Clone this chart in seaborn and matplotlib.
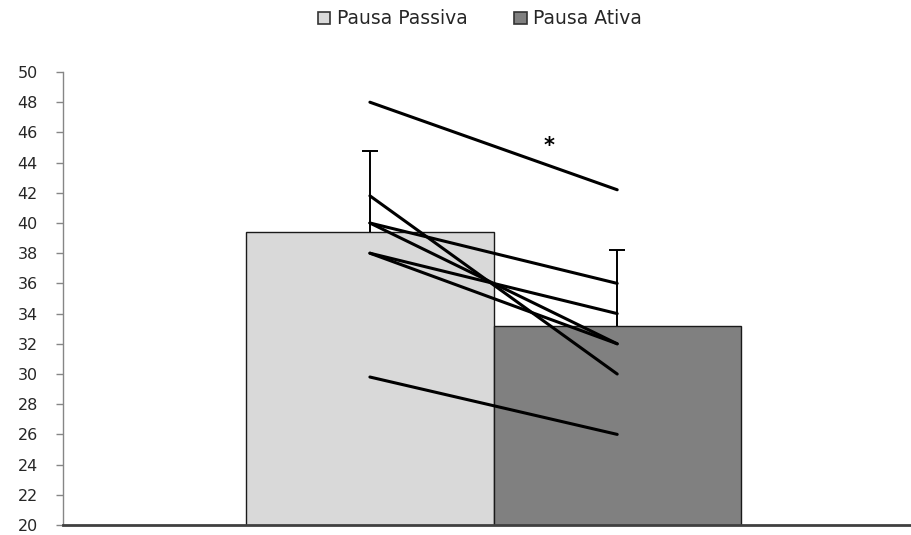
import numpy as np
import pandas as pd
import matplotlib
matplotlib.use("Agg")
import matplotlib.pyplot as plt
from matplotlib.patches import Patch
import seaborn as sns

grupos = ["Pausa Passiva", "Pausa Ativa"]
cores = ["#D9D9D9", "#808080"]
# valores individuais de cada sujeito nas duas condições
passiva = [48.0, 41.8, 40.0, 40.0, 38.0, 38.0, 29.8]
ativa = [42.2, 30.0, 36.0, 32.0, 34.0, 32.0, 26.0]
yticks = list(range(20, 51, 2))

sns.set_theme(style="white")
plt.rcParams["font.family"] = ["DejaVu Sans"]

n = len(passiva)
df = pd.DataFrame({
    "sujeito": list(range(n)) * 2,
    "grupo": [grupos[0]] * n + [grupos[1]] * n,
    "valor": passiva + ativa,
})
df["pos"] = df["grupo"].map({g: i for i, g in enumerate(grupos)})

fig = plt.figure(figsize=(9.12, 5.35), dpi=100)
ax = fig.add_axes([63 / 912, 10 / 535, 848 / 912, 453 / 535])

sns.barplot(data=df, x="grupo", y="valor", hue="grupo", order=grupos,
            hue_order=grupos, palette=cores, width=1.0, errorbar=None,
            edgecolor="#1a1a1a", linewidth=1.0, legend=False, ax=ax)

# desvio padrão apenas para cima
resumo = df.groupby("pos")["valor"].agg(["mean", "std"]).sort_index()
_, caps, _ = ax.errorbar(resumo.index, resumo["mean"],
                         yerr=[np.zeros(len(resumo)), resumo["std"]],
                         fmt="none", ecolor="black", elinewidth=1.4,
                         capsize=6, capthick=1.4, zorder=3)
caps[0].set_visible(False)

# linhas individuais
sns.lineplot(data=df, x="pos", y="valor", units="sujeito", estimator=None,
             color="black", linewidth=2.2, legend=False, ax=ax, zorder=4)

ax.text(0.725, 45.1, "*", ha="center", va="center", fontsize=15,
        fontweight="bold", color="black")

ax.set_ylim(20, 50)
ax.set_xlim(-1.241, 2.188)
ax.set_yticks(yticks)
ax.set_yticklabels([str(t) for t in yticks], fontsize=11.5, color="#262626")
ax.set_xticks([])
ax.set_xlabel("")
ax.set_ylabel("")
ax.tick_params(axis="y", direction="out", length=5, width=1,
               color="#868686", pad=13, left=True)
for s in ["top", "right"]:
    ax.spines[s].set_visible(False)
ax.spines["left"].set_color("#868686")
ax.spines["left"].set_linewidth(1.0)
ax.spines["bottom"].set_color("#404040")
ax.spines["bottom"].set_linewidth(2.0)

handles = [Patch(facecolor=c, edgecolor="#333333", linewidth=1.2, label=g)
           for c, g in zip(cores, grupos)]
fig.legend(handles=handles, loc="center", bbox_to_anchor=(480 / 912, 1 - 19 / 535),
           ncol=2, frameon=False, fontsize=13.5, handlelength=0.65,
           handleheight=0.65, handletextpad=0.35, columnspacing=2.5,
           labelcolor="#262626")

fig.savefig("out.png", dpi=100)
